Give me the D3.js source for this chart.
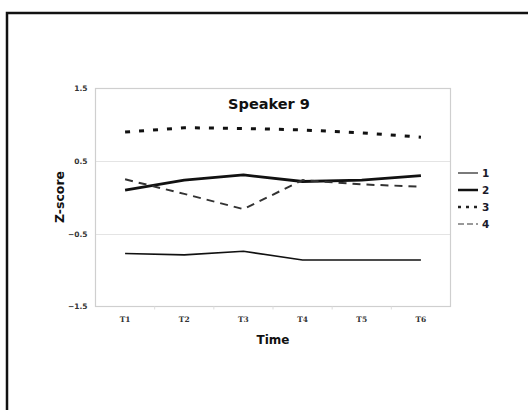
<!DOCTYPE html>
<html><head><meta charset="utf-8">
<script src="https://cdn.jsdelivr.net/npm/d3@7"></script>
<style>body{margin:0;background:#fff}svg{display:block}</style>
</head><body>
<script>
const categories = ["T1","T2","T3","T4","T5","T6"];
const seriesNames = ["1","2","3","4"];
const s1 = [-0.77,-0.79,-0.74,-0.86,-0.86,-0.86];
const s2 = [0.10,0.24,0.31,0.22,0.24,0.30];
const s3 = [0.90,0.96,0.95,0.93,0.89,0.83];
const s4 = [0.25,0.05,-0.16,0.24,0.18,0.15];
const yTicks = [-1.5,-0.5,0.5,1.5];

const W = 528, H = 410;
const svg = d3.select("body").append("svg").attr("width",W).attr("height",H);
svg.append("rect").attr("x",7).attr("y",13).attr("width",540).attr("height",420)
  .attr("fill","none").attr("stroke","#111").attr("stroke-width",2.5);

const L=95.5, R=450.5, T=88.5, B=306.5;
const x = d3.scaleBand().domain(categories).range([L,R]);
const y = d3.scaleLinear().domain([-1.5,1.5]).range([B,T]);

// gridlines
svg.append("g").selectAll("line").data(yTicks.slice(1,3)).join("line")
  .attr("x1",L).attr("x2",R).attr("y1",d=>Math.round(y(d))+0.5).attr("y2",d=>Math.round(y(d))+0.5)
  .attr("stroke","#e4e4e4").attr("stroke-width",1);
svg.append("rect").attr("x",L).attr("y",T).attr("width",R-L).attr("height",B-T)
  .attr("fill","none").attr("stroke","#cfcfcf").attr("stroke-width",1.2);

// y axis labels
const yAxis = d3.axisLeft(y).tickValues(yTicks).tickSize(0).tickPadding(8).tickFormat(d3.format(".1f"));
const gy = svg.append("g").attr("transform",`translate(${L},0)`).call(yAxis);
gy.select(".domain").remove();
gy.selectAll("text").attr("font-family","DejaVu Sans").attr("font-size",7.5).attr("fill","#333").attr("font-weight","bold");

// x axis
const xAxis = d3.axisBottom(x).tickSize(0).tickPadding(10);
const gx = svg.append("g").attr("transform",`translate(0,${B})`).call(xAxis);
gx.select(".domain").remove();
gx.selectAll("text").attr("font-family","DejaVu Serif").attr("font-size",7.5).attr("fill","#333").attr("font-weight","bold");
svg.append("g").selectAll("line").data(categories.slice(1)).join("line")
  .attr("x1",d=>x(d)).attr("x2",d=>x(d)).attr("y1",B).attr("y2",B+3)
  .attr("stroke","#ddd");

// series
const styles = [
  {data:s1,w:1.6,color:"#111",dash:null},
  {data:s2,w:2.8,color:"#111",dash:null},
  {data:s3,w:3,color:"#111",dash:"5,9"},
  {data:s4,w:2,color:"#333",dash:"8,6"}
];
const line = d3.line().x((d,i)=>x(categories[i])+x.bandwidth()/2).y(d=>y(d));
svg.append("g").selectAll("path").data(styles).join("path")
  .attr("d",d=>line(d.data)).attr("fill","none")
  .attr("stroke",d=>d.color).attr("stroke-width",d=>d.w)
  .attr("stroke-dasharray",d=>d.dash).attr("stroke-linejoin","round");

// title
svg.append("text").attr("x",269).attr("y",109).attr("text-anchor","middle")
  .attr("font-family","DejaVu Sans").attr("font-weight","bold").attr("font-size",14.5).attr("fill","#111")
  .text("Speaker 9");
// axis titles
svg.append("text").attr("x",273).attr("y",344).attr("text-anchor","middle")
  .attr("font-family","DejaVu Sans").attr("font-weight","bold").attr("font-size",12).attr("fill","#111")
  .text("Time");
svg.append("text").attr("transform","translate(64,197) rotate(-90)").attr("text-anchor","middle")
  .attr("font-family","DejaVu Sans").attr("font-weight","bold").attr("font-size",12.5).attr("fill","#111")
  .text("Z-score");

// legend
const legStyles = [
  {w:1.2,color:"#222",dash:null},
  {w:2.5,color:"#111",dash:null},
  {w:2.5,color:"#222",dash:"3,5"},
  {w:1.8,color:"#999",dash:"6,3"}
];
const lg = svg.append("g").selectAll("g").data(seriesNames).join("g")
  .attr("transform",(d,i)=>`translate(458,${173+i*17})`);
lg.append("line").attr("x1",0).attr("x2",20).attr("y1",0).attr("y2",0)
  .attr("stroke",(d,i)=>legStyles[i].color).attr("stroke-width",(d,i)=>legStyles[i].w)
  .attr("stroke-dasharray",(d,i)=>legStyles[i].dash);
lg.append("text").attr("x",24).attr("y",4).attr("font-family","DejaVu Sans").attr("font-weight","bold")
  .attr("font-size",10.5).attr("fill","#1a1a2a").text(d=>d);
</script>
</body></html>
